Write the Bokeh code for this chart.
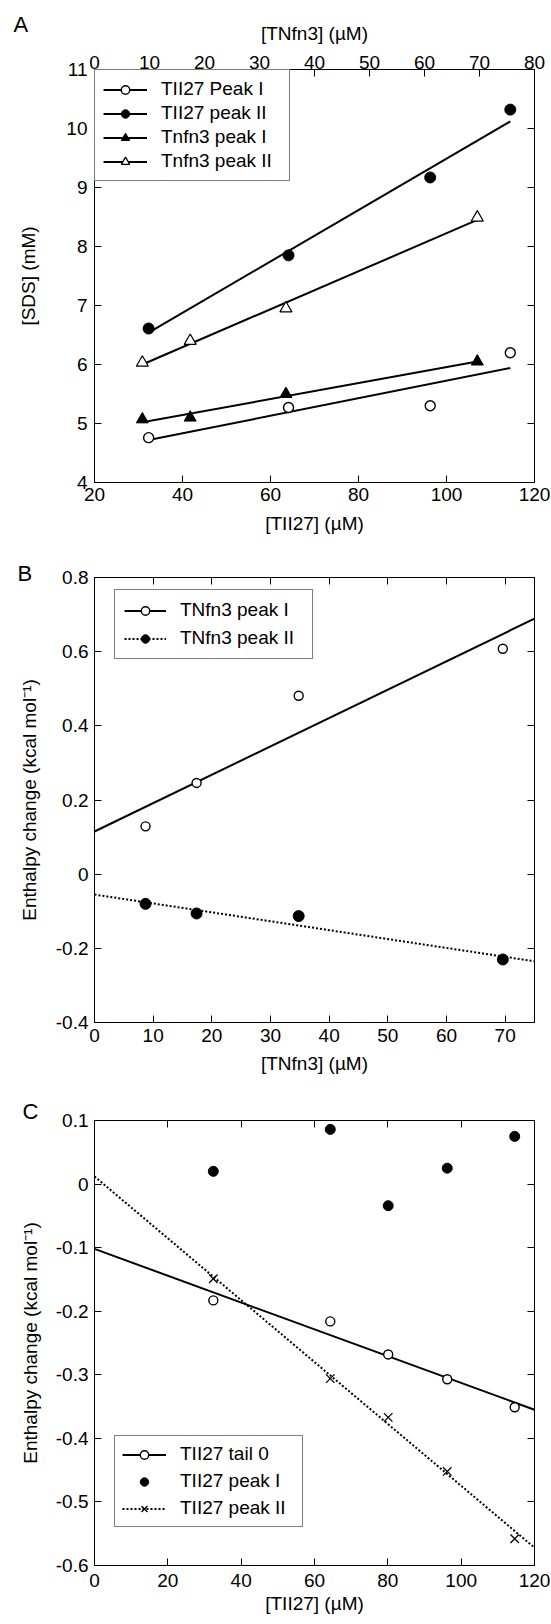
from bokeh.plotting import figure
from bokeh.models import Range1d, LinearAxis, FixedTicker, Legend, LegendItem, Label
from bokeh.layouts import column
from bokeh.embed import file_html
from bokeh.resources import INLINE

FONT = "Liberation Sans"
FS = "19px"

# ---------------- Panel A data ----------------
A_TII27_X = [32.3, 64.1, 96.3, 114.5]
A_TII27_PEAK1 = [4.76, 5.27, 5.30, 6.20]
A_TII27_PEAK2 = [6.61, 7.85, 9.17, 10.32]
A_TNFN3_X = [8.7, 17.4, 34.8, 69.6]
A_TNFN3_PEAK1 = [5.07, 5.10, 5.50, 6.05]
A_TNFN3_PEAK2 = [6.03, 6.40, 6.95, 8.49]
A_FIT_TII27_X = [32.3, 114.5]
A_FIT_TII27_PEAK1 = [4.72, 5.94]
A_FIT_TII27_PEAK2 = [6.54, 10.12]
A_FIT_TNFN3_X = [8.7, 69.6]
A_FIT_TNFN3_PEAK1 = [5.02, 6.05]
A_FIT_TNFN3_PEAK2 = [6.00, 8.45]
A_X_RANGE = (20, 120)
A_Y_RANGE = (4, 11)
A_TOP_RANGE = (0, 80)
A_Y_TICKS = [4, 5, 6, 7, 8, 9, 10, 11]
A_Y_LABELS = ["4", "5", "6", "7", "8", "9", "10", "11"]
A_X_TICKS = [20, 40, 60, 80, 100, 120]
A_X_LABELS = ["20", "40", "60", "80", "100", "120"]
A_TOP_TICKS = [0, 10, 20, 30, 40, 50, 60, 70, 80]
A_TOP_LABELS = ["0", "10", "20", "30", "40", "50", "60", "70", "80"]
A_NAMES = ["TII27 Peak I", "TII27 peak II", "Tnfn3 peak I", "Tnfn3 peak II"]

# ---------------- Panel B data ----------------
B_X = [8.7, 17.4, 34.8, 69.6]
B_PEAK1 = [0.129, 0.246, 0.481, 0.608]
B_PEAK2 = [-0.080, -0.106, -0.113, -0.230]
B_FIT_X = [0, 75]
B_FIT_PEAK1 = [0.115, 0.689]
B_FIT_PEAK2 = [-0.055, -0.235]
B_X_RANGE = (0, 75)
B_Y_RANGE = (-0.4, 0.8)
B_Y_TICKS = [-0.4, -0.2, 0, 0.2, 0.4, 0.6, 0.8]
B_Y_LABELS = ["-0.4", "-0.2", "0", "0.2", "0.4", "0.6", "0.8"]
B_X_TICKS = [0, 10, 20, 30, 40, 50, 60, 70]
B_X_LABELS = ["0", "10", "20", "30", "40", "50", "60", "70"]
B_NAMES = ["TNfn3 peak I", "TNfn3 peak II"]

# ---------------- Panel C data ----------------
C_X = [32.4, 64.3, 80.1, 96.2, 114.6]
C_TAIL0 = [-0.183, -0.216, -0.268, -0.307, -0.351]
C_PEAK1 = [0.020, 0.086, -0.034, 0.025, 0.075]
C_PEAK2 = [-0.149, -0.306, -0.367, -0.452, -0.558]
C_FIT_X = [0, 120]
C_FIT_TAIL0 = [-0.102, -0.355]
C_FIT_PEAK2 = [0.012, -0.572]
C_X_RANGE = (0, 120)
C_Y_RANGE = (-0.6, 0.1)
C_Y_TICKS = [-0.6, -0.5, -0.4, -0.3, -0.2, -0.1, 0, 0.1]
C_Y_LABELS = ["-0.6", "-0.5", "-0.4", "-0.3", "-0.2", "-0.1", "0", "0.1"]
C_X_TICKS = [0, 20, 40, 60, 80, 100, 120]
C_X_LABELS = ["0", "20", "40", "60", "80", "100", "120"]
C_NAMES = ["TII27 tail 0", "TII27 peak I", "TII27 peak II"]

PANEL_LETTERS = ["A", "B", "C"]
LABEL_TII27 = "[TII27] (\u00b5M)"
LABEL_TNFN3 = "[TNfn3] (\u00b5M)"
LABEL_SDS = "[SDS] (mM)"
LABEL_ENTH = "Enthalpy change (kcal mol\u207b\u00b9)"

W = 551


def make_fig(h, xr, yr, left, right, top, bottom):
    p = figure(width=W, height=h, x_range=Range1d(*xr), y_range=Range1d(*yr),
               output_backend="svg", toolbar_location=None,
               min_border_left=left, min_border_right=right,
               min_border_top=top, min_border_bottom=bottom)
    p.grid.visible = False
    p.outline_line_color = "black"
    p.outline_line_width = 1
    p.background_fill_color = "white"
    p.border_fill_color = "white"
    return p


def style_axis(ax, ticks, labels, tick_standoff, text="", label_standoff=0):
    ax.ticker = FixedTicker(ticks=ticks)
    ax.major_label_overrides = {t: l for t, l in zip(ticks, labels)}
    ax.major_tick_in = 7
    ax.major_tick_out = 0
    ax.minor_tick_in = 0
    ax.minor_tick_out = 0
    ax.axis_line_color = "black"
    ax.major_tick_line_color = "black"
    ax.major_label_text_font = FONT
    ax.major_label_text_font_size = FS
    ax.major_label_text_color = "black"
    ax.major_label_standoff = tick_standoff
    if text:
        ax.axis_label = text
        ax.axis_label_text_font = FONT
        ax.axis_label_text_font_size = FS
        ax.axis_label_text_font_style = "normal"
        ax.axis_label_text_color = "black"
        ax.axis_label_standoff = label_standoff


def blank_axis(p, side, ticks, **kw):
    ax = LinearAxis(**kw)
    style_axis(ax, ticks, [""] * len(ticks), 0)
    ax.major_label_text_font_size = "0px"
    p.add_layout(ax, side)
    return ax


def make_legend(items, location, padding, spacing, glyph_w, label_w):
    return Legend(items=items, location=location, margin=0, padding=padding,
                  spacing=spacing, glyph_width=glyph_w, glyph_height=21,
                  label_height=21, label_width=label_w, label_standoff=14,
                  label_text_font=FONT, label_text_font_size=FS,
                  label_text_color="black", border_line_color="black",
                  border_line_width=1, background_fill_color="white",
                  background_fill_alpha=1.0)


def letter(p, txt, x, y, side):
    # panel letter placed in a side panel (not clipped to the frame)
    p.add_layout(Label(x=x, y=y, x_units="screen", y_units="screen", text=txt,
                       text_font=FONT, text_font_size="22px", text_color="black",
                       text_align="left", text_baseline="middle"), side)


# ======================= Panel A =======================
A_H, A_L, A_R, A_T, A_B = 552, 91, 16, 69, 70
pa = make_fig(A_H, A_X_RANGE, A_Y_RANGE, A_L, A_R, A_T, A_B)
pa.extra_x_ranges = {"tn": Range1d(*A_TOP_RANGE)}
style_axis(pa.xaxis[0], A_X_TICKS, A_X_LABELS, 5, LABEL_TII27, 9)
style_axis(pa.yaxis[0], A_Y_TICKS, A_Y_LABELS, 7, LABEL_SDS, 24)
top_a = LinearAxis(x_range_name="tn")
style_axis(top_a, A_TOP_TICKS, A_TOP_LABELS, 1, LABEL_TNFN3, 9)
pa.add_layout(top_a, "above")
blank_axis(pa, "right", A_Y_TICKS)

la1 = pa.line(A_FIT_TII27_X, A_FIT_TII27_PEAK1, line_color="black", line_width=2)
la2 = pa.line(A_FIT_TII27_X, A_FIT_TII27_PEAK2, line_color="black", line_width=2)
la3 = pa.line(A_FIT_TNFN3_X, A_FIT_TNFN3_PEAK1, line_color="black", line_width=2, x_range_name="tn")
la4 = pa.line(A_FIT_TNFN3_X, A_FIT_TNFN3_PEAK2, line_color="black", line_width=2, x_range_name="tn")
sa1 = pa.scatter(A_TII27_X, A_TII27_PEAK1, marker="circle", size=10, fill_color="white",
                 line_color="black", line_width=1.4)
sa2 = pa.scatter(A_TII27_X, A_TII27_PEAK2, marker="circle", size=11, fill_color="black",
                 line_color="black")
sa3 = pa.scatter(A_TNFN3_X, A_TNFN3_PEAK1, marker="triangle", size=12, fill_color="black",
                 line_color="black", x_range_name="tn")
sa4 = pa.scatter(A_TNFN3_X, A_TNFN3_PEAK2, marker="triangle", size=12, fill_color="white",
                 line_color="black", line_width=1.2, x_range_name="tn")
pa.add_layout(make_legend([LegendItem(label=A_NAMES[0], renderers=[la1, sa1]),
                           LegendItem(label=A_NAMES[1], renderers=[la2, sa2]),
                           LegendItem(label=A_NAMES[2], renderers=[la3, sa3]),
                           LegendItem(label=A_NAMES[3], renderers=[la4, sa4])],
                          "top_left", 8, 2, 44, 120))
letter(pa, PANEL_LETTERS[0], 13, A_H - A_B - 24, "left")

# ======================= Panel B =======================
B_H, B_L, B_R, B_T, B_B = 537, 88, 16, 25, 67
pb = make_fig(B_H, B_X_RANGE, B_Y_RANGE, B_L, B_R, B_T, B_B)
style_axis(pb.xaxis[0], B_X_TICKS, B_X_LABELS, 6, LABEL_TNFN3, 8)
style_axis(pb.yaxis[0], B_Y_TICKS, B_Y_LABELS, 6, LABEL_ENTH, 13)
blank_axis(pb, "above", B_X_TICKS)
blank_axis(pb, "right", B_Y_TICKS)

lb1 = pb.line(B_FIT_X, B_FIT_PEAK1, line_color="black", line_width=2)
lb2 = pb.line(B_FIT_X, B_FIT_PEAK2, line_color="black", line_width=2, line_dash="2 2")
sb1 = pb.scatter(B_X, B_PEAK1, marker="circle", size=9, fill_color="white",
                 line_color="black", line_width=1.4)
sb2 = pb.scatter(B_X, B_PEAK2, marker="circle", size=11, fill_color="black",
                 line_color="black")
pb.add_layout(make_legend([LegendItem(label=B_NAMES[0], renderers=[lb1, sb1]),
                           LegendItem(label=B_NAMES[1], renderers=[lb2, sb2])],
                          (20, 363), 9, 6, 42, 123))
letter(pb, PANEL_LETTERS[1], 11 - B_L, 4, "above")

# ======================= Panel C =======================
C_H, C_L, C_R, C_T, C_B = 535, 87, 17, 31, 59
pc = make_fig(C_H, C_X_RANGE, C_Y_RANGE, C_L, C_R, C_T, C_B)
style_axis(pc.xaxis[0], C_X_TICKS, C_X_LABELS, 8, LABEL_TII27, 3)
style_axis(pc.yaxis[0], C_Y_TICKS, C_Y_LABELS, 6, LABEL_ENTH, 12)
blank_axis(pc, "above", C_X_TICKS)
blank_axis(pc, "right", C_Y_TICKS)

lc1 = pc.line(C_FIT_X, C_FIT_TAIL0, line_color="black", line_width=2)
lc3 = pc.line(C_FIT_X, C_FIT_PEAK2, line_color="black", line_width=2, line_dash="2 2")
sc1 = pc.scatter(C_X, C_TAIL0, marker="circle", size=9, fill_color="white",
                 line_color="black", line_width=1.4)
sc2 = pc.scatter(C_X, C_PEAK1, marker="circle", size=10, fill_color="black",
                 line_color="black")
sc3 = pc.scatter(C_X, C_PEAK2, marker="x", size=12, line_color="black", line_width=1.3)
pc.add_layout(make_legend([LegendItem(label=C_NAMES[0], renderers=[lc1, sc1]),
                           LegendItem(label=C_NAMES[1], renderers=[sc2]),
                           LegendItem(label=C_NAMES[2], renderers=[lc3, sc3])],
                          (20, 38), 7, 5, 44, 115))
letter(pc, PANEL_LETTERS[2], 15 - C_L, 9, "above")

layout = column(pa, pb, pc, spacing=0)
open("out.html", "w").write(file_html(layout, INLINE))
